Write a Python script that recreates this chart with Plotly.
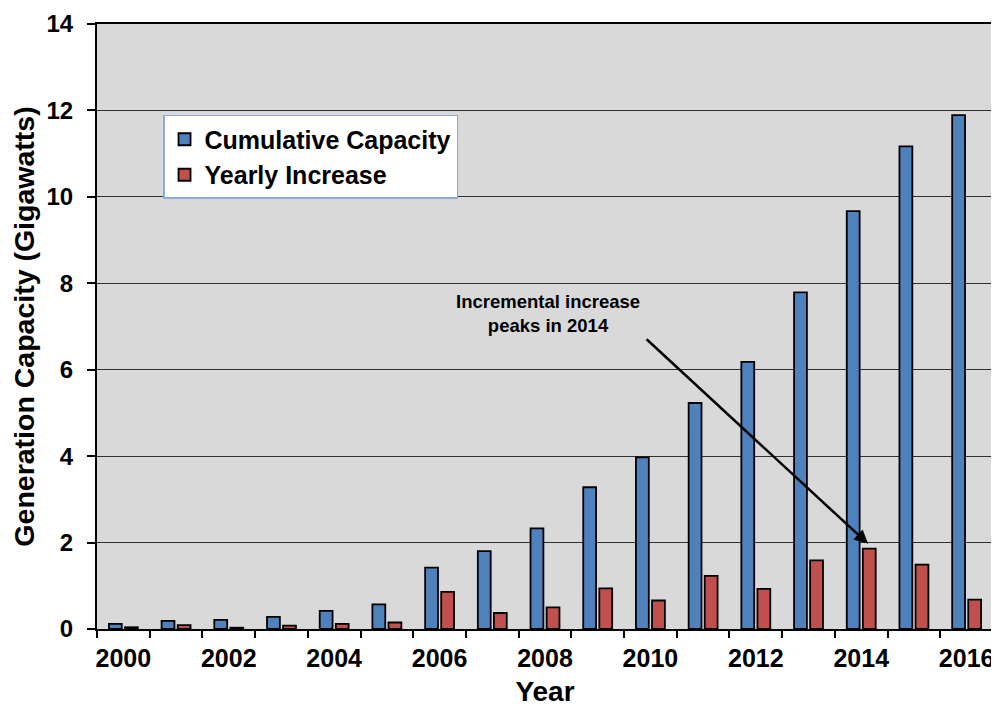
import plotly.graph_objects as go

years = [str(y) for y in range(2000, 2017)]
year_labels = [y if int(y) % 2 == 0 else "" for y in years]
cumulative = [0.12, 0.19, 0.21, 0.28, 0.42, 0.57, 1.42, 1.80, 2.33, 3.28, 3.97,
              5.23, 6.18, 7.79, 9.67, 11.17, 11.89]
yearly = [0.04, 0.09, 0.03, 0.08, 0.12, 0.15, 0.86, 0.37, 0.50, 0.94, 0.66,
          1.23, 0.93, 1.59, 1.86, 1.49, 0.68]

FONT = "Liberation Sans, Arial, sans-serif"

fig = go.Figure()
fig.add_trace(go.Bar(x=years, y=cumulative, name="Cumulative Capacity",
                     marker=dict(color="#4f81bd", line=dict(color="black", width=1.8))))
fig.add_trace(go.Bar(x=years, y=yearly, name="Yearly Increase",
                     marker=dict(color="#c0504d", line=dict(color="black", width=1.8))))

fig.update_layout(
    width=991, height=701,
    margin=dict(l=89, r=6, t=16, b=80),
    paper_bgcolor="white",
    plot_bgcolor="#d9d9d9",
    barmode="group",
    bargap=0.39,
    bargroupgap=0.2,
    font=dict(family=FONT, color="black"),
    showlegend=True,
    legend=dict(
        x=0.0737, y=0.8496, xanchor="left", yanchor="top",
        bgcolor="white", bordercolor="#8eaadb", borderwidth=1.5,
        font=dict(family=FONT, size=25, color="black", weight="bold"),
        tracegroupgap=0,
    ),
    xaxis=dict(
        type="category", automargin=False,
        tickmode="array", tickvals=years, ticktext=year_labels,
        tickson="boundaries", tickangle=0,
        ticks="outside", ticklen=7, tickwidth=1.5, tickcolor="black",
        showline=True, linecolor="black", linewidth=2, mirror=True,
        showgrid=False,
        tickfont=dict(family=FONT, size=25, color="black", weight="bold"),
        ticklabelstandoff=6,
        title=dict(text="Year", font=dict(family=FONT, size=28, color="black", weight="bold"),
                   standoff=10),
    ),
    yaxis=dict(
        range=[0, 14], dtick=2, automargin=False,
        ticks="outside", ticklen=8, tickwidth=1.5, tickcolor="black",
        showline=True, linecolor="black", linewidth=2, mirror=True,
        showgrid=True, gridcolor="#303030", gridwidth=1,
        zeroline=False,
        tickfont=dict(family=FONT, size=24, color="black", weight="bold"),
        ticklabelstandoff=9,
        title=dict(text="Generation Capacity (Gigawatts)",
                   font=dict(family=FONT, size=28.5, color="black", weight="bold"),
                   standoff=6),
    ),
)

# Annotation text
fig.add_annotation(
    x=8.06, y=7.31, xref="x", yref="y",
    text="Incremental increase<br>peaks in 2014",
    showarrow=False, align="center",
    font=dict(family=FONT, size=18.5, color="black", weight="bold"),
)
# Arrow pointing to the 2014 yearly increase bar
fig.add_annotation(
    x=14.13, y=1.97, xref="x", yref="y",
    ax=-223, ay=-206, axref="pixel", ayref="pixel",
    text="", showarrow=True,
    arrowhead=2, arrowsize=1.1, arrowwidth=2.5, arrowcolor="black", standoff=0,
)

fig.write_html("out.html")
